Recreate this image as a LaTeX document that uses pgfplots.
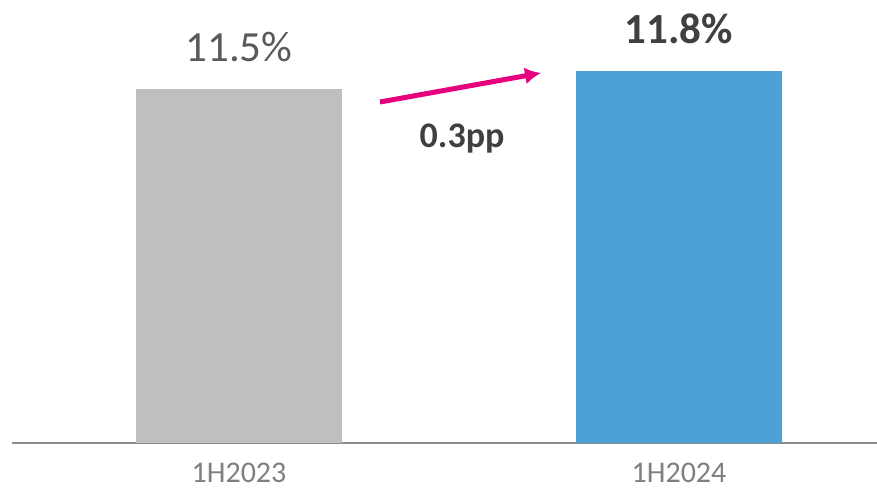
\documentclass[border=0pt]{standalone}
\usepackage{pgfplots}
\pgfplotsset{compat=1.18}
\usetikzlibrary{arrows.meta}
\usepackage{fontspec}
\setmainfont{Carlito}
\definecolor{barGray}{HTML}{BFBFBF}
\definecolor{barBlue}{HTML}{4BA1D6}
\definecolor{txtGray}{HTML}{595959}
\definecolor{txtDark}{HTML}{404040}
\definecolor{catGray}{HTML}{7F7F7F}
\definecolor{lineGray}{HTML}{8C8C8C}
\definecolor{arrowPink}{HTML}{E6007E}
\begin{document}
\begin{tikzpicture}
  \useasboundingbox (0,0) rectangle (877pt,489pt);
  \begin{axis}[
    at={(12pt,46pt)}, anchor=south west,
    scale only axis,
    width=865pt, height=443pt,
    ybar, bar width=206pt, bar shift=0pt,
    xmin=-0.5159, xmax=1.45,
    ymin=5.6, ymax=12.983,
    axis x line*=bottom,
    axis y line=none,
    x axis line style={-, draw=lineGray, line width=1.6pt},
    xtick={0,1},
    xticklabels={1H2023,1H2024},
    major tick length=0pt,
    xticklabel style={anchor=base, inner sep=0pt, yshift=-40pt, text=catGray,
      font=\fontsize{30}{30}\selectfont},
    clip=false,
    /pgf/number format/assume math mode=true,
    nodes near coords,
    every node near coord/.append style={anchor=base, yshift=27pt},
  ]
    \addplot[fill=barGray, draw=none,
      nodes near coords={\pgfmathprintnumber[fixed,precision=1]{\pgfplotspointmeta}\%},
      every node near coord/.append style={text=txtGray,
        font=\fontsize{43}{43}\selectfont}]
      coordinates {(0,11.5)};
    \addplot[fill=barBlue, draw=none,
      nodes near coords={\pgfmathprintnumber[fixed,precision=1]{\pgfplotspointmeta}\%},
      every node near coord/.append style={text=txtDark,
        font=\fontsize{43}{43}\selectfont\bfseries}]
      coordinates {(1,11.8)};
    \draw[arrowPink, line width=5pt, -{Latex[length=16pt,width=17pt]}]
      (axis cs:0.3205,11.283) -- (axis cs:0.6864,11.767);
    \node[anchor=base, text=txtDark, font=\fontsize{36}{36}\selectfont\bfseries]
      at (axis cs:0.507,10.517) {0.3pp};
  \end{axis}
\end{tikzpicture}
\end{document}
